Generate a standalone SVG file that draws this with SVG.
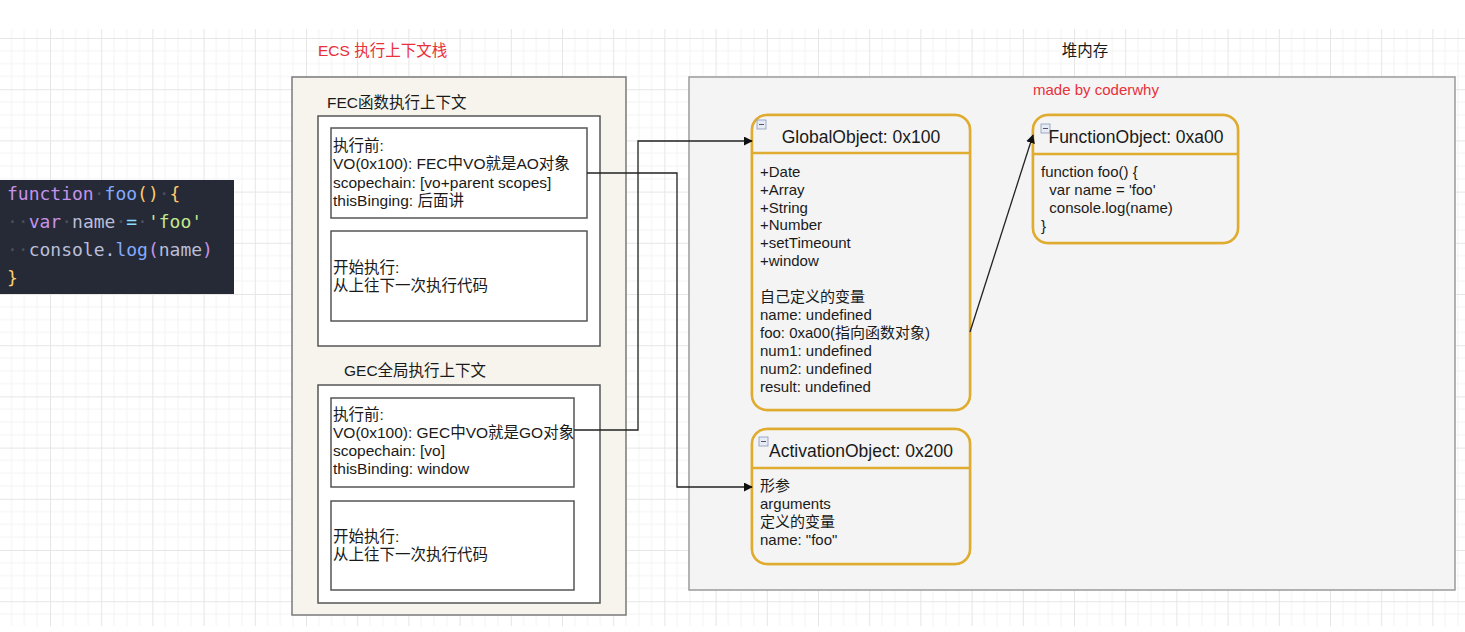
<svg xmlns="http://www.w3.org/2000/svg" width="1465" height="632" viewBox="0 0 1465 632">
<style>
.t{font-family:"Liberation Sans","Noto Sans CJK SC",sans-serif;font-size:15px;fill:#1a1a1a}
.t15{font-family:"Liberation Sans","Noto Sans CJK SC",sans-serif;font-size:15.5px;fill:#1a1a1a}
.red{fill:#e8303a}
.ttl{font-family:"Liberation Sans","Noto Sans CJK SC",sans-serif;font-size:17.5px;fill:#1a1a1a}
.code{font-family:"DejaVu Sans Mono",monospace;font-size:18px}
.box{fill:#fff;stroke:#555;stroke-width:1.5}
.cls{fill:#f4f4f4;stroke:#e0ac30;stroke-width:2.5}
.hdr{fill:#fde6c9}
.conn{fill:none;stroke:#222;stroke-width:1.3}
.mi{fill:#e6ecf6;stroke:#8a9ab8;stroke-width:0.8}
</style>
<defs>
<pattern id="g" x="50" y="38" width="51.2" height="51.2" patternUnits="userSpaceOnUse">
<path d="M12.8 0V51.2M25.6 0V51.2M38.4 0V51.2M0 12.8H51.2M0 25.6H51.2M0 38.4H51.2" stroke="#f4f4f4" stroke-width="1"/>
<path d="M0.5 0V51.2M0 0.5H51.2" stroke="#e6e6e6" stroke-width="1"/>
</pattern>
<marker id="ar" viewBox="0 0 10 10" refX="9" refY="5" markerWidth="9" markerHeight="9" markerUnits="userSpaceOnUse" orient="auto">
<path d="M0 0L10 5L0 10z" fill="#111"/>
</marker>
</defs>
<rect width="1465" height="632" fill="#fff"/>
<rect x="0" y="29" width="1465" height="597" fill="url(#g)"/>

<g id="code">
<rect x="0" y="180" width="234" height="114" fill="#252a36"/>
<text class="code" x="7" y="200"><tspan fill="#c792ea">function</tspan><tspan fill="#4a5060">·</tspan><tspan fill="#82aaff">foo</tspan><tspan fill="#ffcb6b">()</tspan><tspan fill="#4a5060">·</tspan><tspan fill="#ffcb6b">{</tspan></text>
<text class="code" x="7" y="228"><tspan fill="#4a5060">··</tspan><tspan fill="#c792ea">var</tspan><tspan fill="#4a5060">·</tspan><tspan fill="#babed8">name</tspan><tspan fill="#4a5060">·</tspan><tspan fill="#89ddff">=</tspan><tspan fill="#4a5060">·</tspan><tspan fill="#c3e88d">'foo'</tspan></text>
<text class="code" x="7" y="256"><tspan fill="#4a5060">··</tspan><tspan fill="#babed8">console.</tspan><tspan fill="#82aaff">log</tspan><tspan fill="#c792ea">(</tspan><tspan fill="#babed8">name</tspan><tspan fill="#c792ea">)</tspan></text>
<text class="code" x="7" y="284" fill="#ffcb6b">}</text>
</g>

<g id="ecs">
<text class="t15 red" x="318" y="56">ECS 执行上下文栈</text>
<rect x="292" y="77" width="334" height="538" fill="#f6f4ec" stroke="#7a7a7a" stroke-width="1.5"/>
</g>

<g id="fec">
<text class="t15" x="327" y="108">FEC函数执行上下文</text>
<rect class="box" x="318" y="116" width="282" height="230"/>
</g>
<g id="fec-before">
<rect class="box" x="331" y="128" width="256" height="90"/>
<text class="t15" x="333" y="151">执行前:</text>
<text class="t15" x="333" y="169">VO(0x100): FEC中VO就是AO对象</text>
<text class="t15" x="333" y="188">scopechain: [vo+parent scopes]</text>
<text class="t15" x="333" y="206">thisBinging: 后面讲</text>
</g>
<g id="fec-run">
<rect class="box" x="331" y="231" width="256" height="90"/>
<text class="t15" x="333" y="273">开始执行:</text>
<text class="t15" x="333" y="291">从上往下一次执行代码</text>
</g>

<g id="gec">
<text class="t15" x="344" y="376">GEC全局执行上下文</text>
<rect class="box" x="318" y="385" width="282" height="218"/>
</g>
<g id="gec-before">
<rect class="box" x="331" y="398" width="243" height="89"/>
<text class="t15" x="333" y="420">执行前:</text>
<text class="t15" x="333" y="438">VO(0x100): GEC中VO就是GO对象</text>
<text class="t15" x="333" y="456">scopechain: [vo]</text>
<text class="t15" x="333" y="474">thisBinding: window</text>
</g>
<g id="gec-run">
<rect class="box" x="331" y="501" width="243" height="89"/>
<text class="t15" x="333" y="542">开始执行:</text>
<text class="t15" x="333" y="560">从上往下一次执行代码</text>
</g>

<g id="heap">
<text class="t15" x="1085" y="56" text-anchor="middle">堆内存</text>
<rect x="689" y="77" width="766" height="513" fill="#f4f4f4" stroke="#9a9a9a" stroke-width="1.5"/>
<text class="t red" x="1033" y="95">made by coderwhy</text>
</g>

<g id="global-object">
<rect class="cls" x="752" y="115" width="218" height="295" rx="15"/>
<path class="hdr" d="M767 116.3H955A13.7 13.7 0 0 1 968.7 130V153H753.3V130A13.7 13.7 0 0 1 767 116.3z"/>
<rect class="cls" x="752" y="115" width="218" height="295" rx="15" fill="none"/>
<line x1="752" y1="153" x2="970" y2="153" stroke="#e0ac30" stroke-width="2.5"/>
<rect class="mi" x="757" y="120" width="9" height="9"/><line x1="759" y1="124.5" x2="764" y2="124.5" stroke="#556" stroke-width="1"/>
<text class="ttl" x="861" y="143" text-anchor="middle">GlobalObject: 0x100</text>
<text class="t" x="760" y="177">+Date</text>
<text class="t" x="760" y="195">+Array</text>
<text class="t" x="760" y="213">+String</text>
<text class="t" x="760" y="230">+Number</text>
<text class="t" x="760" y="248">+setTimeount</text>
<text class="t" x="760" y="266">+window</text>
<text class="t" x="760" y="302">自己定义的变量</text>
<text class="t" x="760" y="320">name: undefined</text>
<text class="t" x="760" y="338">foo: 0xa00(指向函数对象)</text>
<text class="t" x="760" y="356">num1: undefined</text>
<text class="t" x="760" y="374">num2: undefined</text>
<text class="t" x="760" y="392">result: undefined</text>
</g>

<g id="activation-object">
<rect class="cls" x="752" y="429" width="218" height="135" rx="15"/>
<path class="hdr" d="M767 430.3H955A13.7 13.7 0 0 1 968.7 444V468H753.3V444A13.7 13.7 0 0 1 767 430.3z"/>
<rect class="cls" x="752" y="429" width="218" height="135" rx="15" fill="none"/>
<line x1="752" y1="468" x2="970" y2="468" stroke="#e0ac30" stroke-width="2.5"/>
<rect class="mi" x="759" y="437" width="9" height="9"/><line x1="761" y1="441.5" x2="766" y2="441.5" stroke="#556" stroke-width="1"/>
<text class="ttl" x="861" y="457" text-anchor="middle">ActivationObject: 0x200</text>
<text class="t" x="760" y="491">形参</text>
<text class="t" x="760" y="509">arguments</text>
<text class="t" x="760" y="527">定义的变量</text>
<text class="t" x="760" y="545">name: "foo"</text>
</g>

<g id="function-object">
<rect class="cls" x="1033" y="115" width="205" height="128" rx="15"/>
<path class="hdr" d="M1048 116.3H1223A13.7 13.7 0 0 1 1236.7 130V154H1034.3V130A13.7 13.7 0 0 1 1048 116.3z"/>
<rect class="cls" x="1033" y="115" width="205" height="128" rx="15" fill="none"/>
<line x1="1033" y1="154" x2="1238" y2="154" stroke="#e0ac30" stroke-width="2.5"/>
<rect class="mi" x="1041" y="124" width="9" height="9"/><line x1="1043" y1="128.5" x2="1048" y2="128.5" stroke="#556" stroke-width="1"/>
<text class="ttl" x="1136" y="143" text-anchor="middle">FunctionObject: 0xa00</text>
<text class="t" x="1041" y="177">function foo() {</text>
<text class="t" x="1041" y="195" xml:space="preserve">  var name = 'foo'</text>
<text class="t" x="1041" y="213" xml:space="preserve">  console.log(name)</text>
<text class="t" x="1041" y="231">}</text>
</g>

<g id="connectors">
<path class="conn" d="M587 173H677V487H752" marker-end="url(#ar)"/>
<path class="conn" d="M574 430H638V141H752" marker-end="url(#ar)"/>
<path class="conn" d="M970 332L1033 135" marker-end="url(#ar)"/>
</g>
</svg>
